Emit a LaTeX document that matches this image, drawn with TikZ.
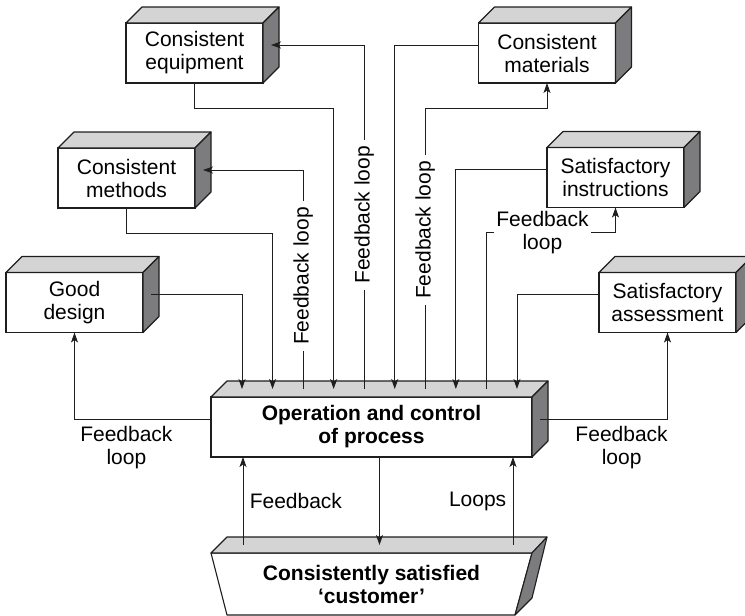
\documentclass[tikz,border=0pt]{standalone}
\usepackage{fontspec}
\setmainfont{Liberation Sans}
\usetikzlibrary{arrows.meta}
\usepackage{xcolor}
\definecolor{topgrey}{HTML}{D4D4D4}
\definecolor{sidegrey}{HTML}{7C7C7E}
\definecolor{inkgrey}{HTML}{1E1E1E}

% top and side faces of a solid block
\newcommand{\boxfaces}[1]{%
  \draw[face, fill=topgrey] (#1.north west) -- ++(16pt,16pt)
    -- ([shift={(16pt,16pt)}]#1.north east) -- (#1.north east) -- cycle;
  \draw[face, fill=sidegrey] (#1.north east) -- ++(16pt,16pt)
    -- ([shift={(16pt,16pt)}]#1.south east) -- (#1.south east) -- cycle;
}

\begin{document}
\begin{tikzpicture}[
  x=1pt, y=-1pt,
  font=\fontsize{21}{23}\selectfont,
  face/.style={draw=inkgrey, line width=1.1pt, line join=round},
  block/.style={rectangle, draw=inkgrey, fill=white, line width=1.1pt,
    minimum width=137pt, minimum height=60pt, inner sep=0pt, outer sep=0pt,
    align=center},
  mainblock/.style={block, minimum width=321pt,
    font=\fontsize{21}{23}\selectfont\bfseries},
  arrow/.style={-{Stealth[length=10pt, width=7pt, inset=2.5pt]},
    line width=0.9pt, draw=inkgrey},
  vlabel/.style={rotate=90, fill=white, inner xsep=6pt, inner ysep=1pt},
  hlabel/.style={align=center, inner sep=2pt},
]

\useasboundingbox (0,0) rectangle (745,616);
\clip (0,0) rectangle (745,616);

% === Inputs ===
\node[block] (equipment) at (194.5,53) {Consistent\\equipment};
\node[block] (materials) at (547,53) {Consistent\\materials};
\node[block] (methods) at (126.5,178) {Consistent\\methods};
\node[block] (instructions) at (615.5,177.5) {Satisfactory\\instructions};
\node[block] (design) at (74.5,302.5) {Good\\design};
\node[block] (assessment) at (667.5,302.5) {Satisfactory\\assessment};

% === Process ===
\node[mainblock] (process) at (371.5,427) {Operation and control\\of process};

\foreach \b in {equipment,materials,methods,instructions,design,assessment,process}
  {\boxfaces{\b}}

% === Customer ===
\node[minimum width=321pt, minimum height=62pt, inner sep=0pt, outer sep=0pt,
  align=center, font=\fontsize{21}{23}\selectfont\bfseries]
  (customer) at (371.5,584) {Consistently satisfied\\`customer'};
\draw[face] (customer.north west) -- (customer.north east)
  -- ([xshift=-17pt]customer.south east) -- ([xshift=16pt]customer.south west) -- cycle;
\draw[face, fill=topgrey] (customer.north west) -- ++(16pt,16pt)
  -- ([shift={(15pt,16pt)}]customer.north east) -- (customer.north east) -- cycle;
\draw[face, fill=sidegrey] (customer.north east) -- ++(15pt,16pt)
  -- ([yshift=17pt]customer.south east) -- ([xshift=-17pt]customer.south east) -- cycle;

% entry points on top of the process
\foreach \i in {1,...,10}
  \coordinate (p\i) at ([xshift={31pt+(\i-1)*30.55pt}, yshift=8pt]process.north west);

% === Arrows into the process ===
\draw[arrow] ([shift={(8pt,8pt)}]design.east) -| (p1);
\draw[arrow] (methods.south) -- ++(0,25) -| (p2);
\draw[arrow] (equipment.south) -- ++(0,25) -| (p4);
\draw[arrow] ([yshift=8pt]materials.west) -| (p6);
\draw[arrow] ([yshift=8pt]instructions.west) -| (p8);
\draw[arrow] ([yshift=8pt]assessment.west) -| (p10);

% === Feedback loops ===
\draw[arrow] (p3) |- node[vlabel, pos=0.258] {Feedback loop}
  ([shift={(8pt,8pt)}]methods.east);
\draw[arrow] (p5) |- node[vlabel, pos=0.253] {Feedback loop}
  ([shift={(8pt,8pt)}]equipment.east);
\draw[arrow] (p7) |- node[vlabel, pos=0.283] {Feedback loop}
  ([yshift=-25pt]materials.south) -- (materials.south);
\draw[arrow] (p9) |- node[hlabel, fill=white, pos=0.717] {Feedback\\loop}
  ([yshift=-25pt]instructions.south) -- (instructions.south);

\draw[arrow] ([yshift=8pt]process.west) -| node[hlabel, below=5pt, pos=0.31]
  {Feedback\\loop} (design.south);
\draw[arrow] ([shift={(8pt,8pt)}]process.east) -| node[hlabel, below=5pt, pos=0.32]
  {Feedback\\loop} (assessment.south);

% === Process and customer ===
\draw[arrow] ([xshift=8pt]process.south) -- ([shift={(8pt,8pt)}]customer.north);
\draw[arrow] ([shift={(32pt,8pt)}]customer.north west)
  -- node[right=3pt] {Feedback} ([xshift=32pt]process.south west);
\draw[arrow] ([shift={(-19pt,8pt)}]customer.north east)
  -- node[left=3pt] {Loops} ([xshift=-19pt]process.south east);

\end{tikzpicture}
\end{document}
